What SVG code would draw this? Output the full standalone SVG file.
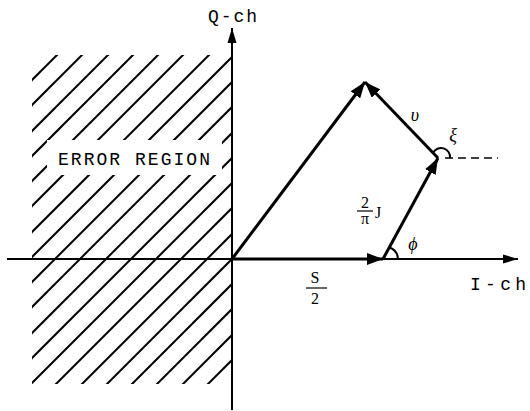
<svg xmlns="http://www.w3.org/2000/svg" width="530" height="411" viewBox="0 0 530 411">
<style>
.axis{stroke:#000;stroke-width:2;fill:none}
.vec{stroke:#000;stroke-width:3;fill:none}
.hatch line{stroke:#000;stroke-width:2}
.mono{font-family:"Liberation Mono","Courier New",monospace;fill:#000}
.serif{font-family:"Liberation Serif","Times New Roman",serif;fill:#000}
.thin{stroke:#000;stroke-width:2;fill:none}
</style>
<defs>
<marker id="ah" markerUnits="userSpaceOnUse" markerWidth="18" markerHeight="12" refX="16" refY="6" orient="auto">
<path d="M0,0 L16,6 L0,12 Z" fill="#000"/>
</marker>
<marker id="axh" markerUnits="userSpaceOnUse" markerWidth="16" markerHeight="10" refX="15" refY="5" orient="auto">
<path d="M0,0.5 L15,5 L0,9.5 Z" fill="#000"/>
</marker>
<clipPath id="hclip">
<path d="M32,55 H232 V384 H32 Z M47,140 V175 H222 V140 Z" clip-rule="evenodd"/>
</clipPath>
</defs>
<g id="error-region" class="hatch" clip-path="url(#hclip)">
<line x1="0" y1="112" x2="112" y2="0"/>
<line x1="0" y1="137" x2="137" y2="0"/>
<line x1="0" y1="163" x2="163" y2="0"/>
<line x1="0" y1="188" x2="188" y2="0"/>
<line x1="0" y1="213" x2="213" y2="0"/>
<line x1="0" y1="238" x2="238" y2="0"/>
<line x1="0" y1="264" x2="264" y2="0"/>
<line x1="0" y1="289" x2="289" y2="0"/>
<line x1="0" y1="314" x2="314" y2="0"/>
<line x1="0" y1="339" x2="339" y2="0"/>
<line x1="0" y1="365" x2="365" y2="0"/>
<line x1="0" y1="390" x2="390" y2="0"/>
<line x1="0" y1="415" x2="415" y2="0"/>
<line x1="0" y1="440" x2="440" y2="0"/>
<line x1="0" y1="466" x2="466" y2="0"/>
<line x1="0" y1="491" x2="491" y2="0"/>
<line x1="0" y1="516" x2="516" y2="0"/>
<line x1="0" y1="541" x2="541" y2="0"/>
<line x1="0" y1="567" x2="567" y2="0"/>
<line x1="0" y1="592" x2="592" y2="0"/>
</g>
<text id="error-label" class="mono" x="58" y="165" font-size="18" textLength="152" lengthAdjust="spacing">ERROR REGION</text>
<g id="axes">
<line class="axis" x1="232" y1="410" x2="232" y2="28" marker-end="url(#axh)"/>
<line class="axis" x1="7" y1="259" x2="518" y2="259" marker-end="url(#axh)"/>
<text class="mono" x="208" y="22" font-size="18" textLength="49" lengthAdjust="spacing">Q-ch</text>
<text class="mono" x="470" y="290" font-size="18" textLength="56" lengthAdjust="spacing">I-ch</text>
</g>
<g id="connectors">
<line class="vec" x1="232" y1="259" x2="383" y2="259" marker-end="url(#ah)"/>
<line class="vec" x1="383" y1="259" x2="438" y2="158" marker-end="url(#ah)"/>
<line class="vec" x1="438" y1="158" x2="365" y2="82" marker-end="url(#ah)"/>
<line class="vec" x1="232" y1="259" x2="365" y2="82" marker-end="url(#ah)"/>
<line x1="445" y1="158" x2="498" y2="158" stroke="#000" stroke-width="1.6" stroke-dasharray="8,5"/>
<path class="thin" d="M389.5,247.5 A13,13 0 0 1 398,259"/>
<path class="thin" d="M433,153 A9,9 0 0 1 450,158"/>
</g>
<g id="labels">
<text class="serif" x="315" y="283" font-size="16" text-anchor="middle">S</text>
<line x1="306" y1="288" x2="327" y2="288" stroke="#000" stroke-width="1.2"/>
<text class="serif" x="315" y="304" font-size="16" text-anchor="middle">2</text>
<text class="serif" x="365" y="208" font-size="16" text-anchor="middle">2</text>
<line x1="357" y1="211" x2="373" y2="211" stroke="#000" stroke-width="1.2"/>
<text class="serif" x="365" y="224" font-size="16" text-anchor="middle">π</text>
<text class="serif" x="375" y="218" font-size="16">J</text>
<text class="serif" x="413" y="250" font-size="18" font-style="italic" text-anchor="middle">ϕ</text>
<text class="serif" x="415" y="121" font-size="18" font-style="italic" text-anchor="middle">υ</text>
<text class="serif" x="453" y="141" font-size="18" font-style="italic" text-anchor="middle">ξ</text>
</g>
</svg>
